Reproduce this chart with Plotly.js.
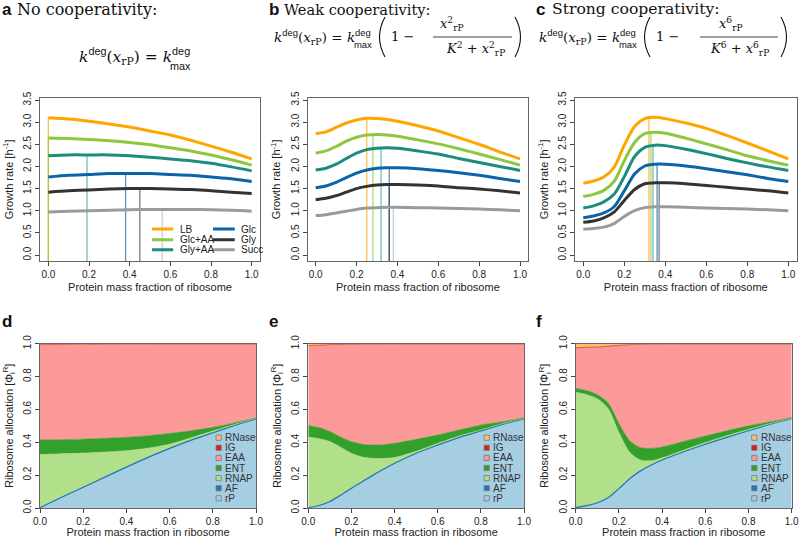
<!DOCTYPE html>
<html><head><meta charset="utf-8">
<script src="https://cdn.plot.ly/plotly-3.0.1.min.js"></script>
<style>html,body{margin:0;padding:0;background:#fff}</style>
</head><body><div id="chart" style="width:799px;height:538px"></div>
<script>
// ---------------- data ----------------
const media = ['LB','Glc+AA','Gly+AA','Glc','Gly','Succ'];

// panel a: no cooperativity
const xA = [0,0.1,0.2,0.3,0.4,0.5,0.6,0.7,0.8,0.9,1.0];
const aLB    = [3.10,3.07,3.02,2.96,2.89,2.80,2.71,2.59,2.46,2.32,2.17];
const aGlcAA = [2.64,2.63,2.61,2.58,2.54,2.49,2.42,2.35,2.26,2.15,2.03];
const aGlyAA = [2.24,2.26,2.26,2.26,2.24,2.21,2.17,2.13,2.07,1.99,1.90];
const aGlc   = [1.76,1.80,1.82,1.84,1.84,1.84,1.82,1.80,1.76,1.72,1.66];
const aGly   = [1.42,1.45,1.47,1.49,1.50,1.50,1.49,1.48,1.45,1.42,1.39];
const aSucc  = [0.97,0.99,1.00,1.01,1.02,1.03,1.03,1.03,1.02,1.01,0.99];
const aPeakX = [0,0,0.19,0.38,0.45,0.56];
const aPeakY = [3.10,2.64,2.26,1.84,1.50,1.03];

// panel b: weak cooperativity
const xB = [0,0.05,0.1,0.15,0.2,0.25,0.3,0.35,0.4,0.5,0.6,0.7,0.8,0.9,1.0];
const bLB    = [2.74,2.78,2.88,2.98,3.05,3.09,3.08,3.06,3.02,2.92,2.80,2.65,2.50,2.33,2.17];
const bGlcAA = [2.30,2.35,2.45,2.57,2.66,2.71,2.72,2.71,2.68,2.60,2.51,2.40,2.28,2.16,2.03];
const bGlyAA = [1.92,1.96,2.05,2.18,2.30,2.38,2.41,2.42,2.41,2.35,2.28,2.18,2.09,2.00,1.91];
const bGlc   = [1.52,1.56,1.64,1.75,1.85,1.92,1.96,1.97,1.97,1.95,1.91,1.86,1.80,1.73,1.66];
const bGly   = [1.25,1.28,1.34,1.42,1.50,1.55,1.58,1.59,1.59,1.58,1.56,1.52,1.49,1.45,1.40];
const bSucc  = [0.89,0.91,0.95,0.99,1.03,1.06,1.07,1.08,1.08,1.07,1.06,1.05,1.04,1.02,1.00];
const bPeakX = [0.25,0.28,0.32,0.36,0.36,0.38];
const bPeakY = [3.09,2.72,2.42,1.97,1.59,1.08];

// panel c: strong cooperativity
const xC = [0,0.05,0.1,0.15,0.2,0.25,0.3,0.35,0.4,0.5,0.6,0.7,0.8,0.9,1.0];
const cLB    = [1.62,1.67,1.76,1.98,2.48,2.90,3.08,3.11,3.08,2.98,2.86,2.70,2.53,2.35,2.17];
const cGlcAA = [1.32,1.37,1.46,1.66,2.13,2.54,2.74,2.77,2.75,2.64,2.51,2.38,2.24,2.13,2.03];
const cGlyAA = [1.06,1.11,1.20,1.37,1.77,2.22,2.43,2.48,2.47,2.39,2.29,2.18,2.08,1.99,1.91];
const cGlc   = [0.84,0.88,0.95,1.09,1.45,1.83,2.01,2.05,2.05,2.01,1.95,1.88,1.81,1.73,1.66];
const cGly   = [0.74,0.77,0.84,0.97,1.23,1.48,1.61,1.63,1.63,1.61,1.57,1.53,1.49,1.45,1.40];
const cSucc  = [0.58,0.60,0.63,0.71,0.87,1.00,1.07,1.09,1.09,1.08,1.06,1.05,1.04,1.02,1.00];
const cPeakX = [0.32,0.33,0.34,0.36,0.37,0.37];
const cPeakY = [3.12,2.77,2.48,2.05,1.63,1.09];

// ribosome allocation components (bottom to top)
const components = ['rP','AF','RNAP','ENT','EAA','IG','RNase'];

const xD = [0,0.1,0.2,0.3,0.4,0.5,0.6,0.7,0.8,0.9,1.0];
const dRP    = [0,0.062,0.123,0.185,0.246,0.305,0.36,0.41,0.455,0.499,0.54];
const dAF    = [0.002,0.003,0.003,0.003,0.003,0.003,0.003,0.003,0.003,0.003,0.003];
const dRNAP  = [0.323,0.265,0.208,0.153,0.100,0.056,0.025,0.014,0.010,0.006,0.002];
const dENT   = [0.089,0.086,0.085,0.083,0.081,0.076,0.066,0.043,0.023,0.010,0.003];
const dEAA   = [0.579,0.579,0.577,0.572,0.567,0.557,0.543,0.527,0.506,0.479,0.449];
const dIG    = [0.001,0.001,0.001,0.002,0.002,0.002,0.002,0.002,0.002,0.002,0.002];
const dRNase = [0.006,0.004,0.003,0.002,0.001,0.001,0.001,0.001,0.001,0.001,0.001];

const xE = [0,0.05,0.1,0.15,0.2,0.25,0.3,0.35,0.4,0.5,0.6,0.7,0.8,0.9,1.0];
const eRP    = [0,0.012,0.037,0.075,0.117,0.157,0.197,0.234,0.269,0.33,0.38,0.427,0.466,0.506,0.54];
const eAF    = [0.002,0.003,0.003,0.003,0.003,0.003,0.003,0.003,0.003,0.003,0.003,0.003,0.003,0.003,0.003];
const eRNAP  = [0.428,0.407,0.364,0.292,0.213,0.150,0.102,0.065,0.035,0.012,0.010,0.008,0.006,0.004,0.002];
const eENT   = [0.071,0.068,0.061,0.062,0.071,0.078,0.081,0.084,0.087,0.073,0.051,0.037,0.030,0.012,0.003];
const eEAA   = [0.485,0.499,0.527,0.562,0.591,0.608,0.613,0.611,0.603,0.579,0.553,0.522,0.492,0.472,0.449];
const eIG    = [0.002,0.002,0.002,0.002,0.002,0.002,0.002,0.002,0.002,0.002,0.002,0.002,0.002,0.002,0.002];
const eRNase = [0.012,0.009,0.006,0.004,0.003,0.002,0.002,0.001,0.001,0.001,0.001,0.001,0.001,0.001,0.001];

const xF = [0,0.05,0.1,0.15,0.2,0.25,0.3,0.35,0.4,0.5,0.6,0.7,0.8,0.9,1.0];
const fRP    = [0,0.012,0.029,0.059,0.115,0.175,0.223,0.259,0.289,0.339,0.385,0.427,0.467,0.507,0.542];
const fAF    = [0.002,0.002,0.003,0.003,0.003,0.003,0.003,0.003,0.003,0.003,0.003,0.003,0.003,0.003,0.003];
const fRNAP  = [0.702,0.676,0.633,0.543,0.342,0.162,0.066,0.026,0.013,0.010,0.010,0.010,0.008,0.004,0.002];
const fENT   = [0.024,0.025,0.025,0.035,0.055,0.070,0.076,0.075,0.067,0.053,0.040,0.030,0.022,0.011,0.003];
const fEAA   = [0.245,0.261,0.288,0.343,0.473,0.582,0.627,0.633,0.625,0.592,0.559,0.527,0.497,0.472,0.447];
const fIG    = [0.002,0.002,0.002,0.002,0.002,0.002,0.002,0.002,0.002,0.002,0.002,0.002,0.002,0.002,0.002];
const fRNase = [0.025,0.022,0.020,0.015,0.010,0.006,0.003,0.002,0.001,0.001,0.001,0.001,0.001,0.001,0.001];

const topTicks = [0,0.5,1,1.5,2,2.5,3,3.5];
const fracTicks = [0,0.2,0.4,0.6,0.8,1.0];

// ---------------- styles ----------------
const W = 799, H = 538;
const SANS = 'Liberation Sans, Arial, sans-serif';
const SERIF = 'DejaVu Serif, serif';
const lineColors = ['#FFA500','#8DC63F','#1B8C7D','#0B63AA','#333333','#9A9A9A'];
const dropColors = ['rgba(255,165,0,0.7)','rgba(141,198,63,0.7)','rgba(27,160,140,0.65)','rgba(11,99,170,0.7)','rgba(51,51,51,0.65)','rgba(170,170,170,0.6)'];
const compColors = ['#A6CEE3','#1F78B4','#B2DF8A','#33A02C','#FB9A99','#E31A1C','#FDBF6F'];
const yFloor = -0.135, yCeil = 3.552;

const px = v => v / W;
const py = v => 1 - v / H;

const traces = [];
function growthPanel(x, series, peakX, peakY, n) {
  const xa = 'x' + (n === 1 ? '' : n), ya = 'y' + (n === 1 ? '' : n);
  series.forEach((s, i) => {
    traces.push({type:'scatter', mode:'lines', x:[peakX[i], peakX[i]], y:[yFloor, peakY[i]],
      xaxis:xa, yaxis:ya, line:{color:dropColors[i], width:1.3}, showlegend:false, hoverinfo:'skip'});
  });
  series.forEach((s, i) => {
    traces.push({type:'scatter', mode:'lines', x:x, y:s, name:media[i],
      xaxis:xa, yaxis:ya, line:{color:lineColors[i], width:3, shape:'spline', smoothing:0.8},
      showlegend:false, hoverinfo:'skip'});
  });
}
growthPanel(xA, [aLB,aGlcAA,aGlyAA,aGlc,aGly,aSucc], aPeakX, aPeakY, 1);
growthPanel(xB, [bLB,bGlcAA,bGlyAA,bGlc,bGly,bSucc], bPeakX, bPeakY, 2);
growthPanel(xC, [cLB,cGlcAA,cGlyAA,cGlc,cGly,cSucc], cPeakX, cPeakY, 3);

function allocPanel(x, layers, n) {
  const xa = 'x' + n, ya = 'y' + n;
  layers.forEach((vals, i) => {
    const isAF = components[i] === 'AF';
    traces.push({type:'scatter', mode:'lines', x:x, y:vals, name:components[i],
      stackgroup:'alloc' + n, fillcolor:compColors[i],
      line:{color:compColors[i], width:isAF ? 1.2 : 0.6, shape:'spline', smoothing:0.8},
      xaxis:xa, yaxis:ya, showlegend:false, hoverinfo:'skip'});
  });
}
allocPanel(xD, [dRP,dAF,dRNAP,dENT,dEAA,dIG,dRNase], 4);
allocPanel(xE, [eRP,eAF,eRNAP,eENT,eEAA,eIG,eRNase], 5);
allocPanel(xF, [fRP,fAF,fRNAP,fENT,fEAA,fIG,fRNase], 6);

// ---------------- axes ----------------
const axBase = {showgrid:false, zeroline:false, showline:true, mirror:true, linecolor:'#666', linewidth:1,
  ticks:'outside', ticklen:4, tickcolor:'#444', ticklabeloverflow:'allow',
  tickfont:{family:SANS, size:10, color:'#222'}, fixedrange:true};
const titleFont = {family:SANS, size:11, color:'#222'};
const layout = {width:W, height:H, margin:{l:0,r:0,t:0,b:0}, paper_bgcolor:'#fff', plot_bgcolor:'#fff',
  showlegend:false, annotations:[], shapes:[]};

const topDom = [[40.2,259.8],[307.5,528.2],[575.1,796.5]];
const botDom = [[40,256],[308.3,524],[575.7,791.7]];
topDom.forEach((d, i) => {
  const k = i + 1, s = k === 1 ? '' : k;
  layout['xaxis' + s] = Object.assign({}, axBase, {domain:[px(d[0]), px(d[1])], range:[-0.04,1.04],
    tickvals:fracTicks, ticktext:fracTicks.map(v => v.toFixed(1)), anchor:'y' + s,
    title:{text:'Protein mass fraction of ribosome', font:titleFont, standoff:4}});
  layout['yaxis' + s] = Object.assign({}, axBase, {domain:[py(261), py(97.7)], range:[yFloor, yCeil],
    tickvals:topTicks, ticktext:topTicks.map(v => v.toFixed(1)), tickangle:-90, anchor:'x' + s,
    title:{text:'Growth rate [h<sup>-1</sup>]', font:titleFont, standoff:6}});
});
botDom.forEach((d, i) => {
  const k = i + 4;
  layout['xaxis' + k] = Object.assign({}, axBase, {domain:[px(d[0]), px(d[1])], range:[0,1],
    tickvals:fracTicks, ticktext:fracTicks.map(v => v.toFixed(1)), anchor:'y' + k,
    title:{text:'Protein mass fraction in ribosome', font:titleFont, standoff:3}});
  layout['yaxis' + k] = Object.assign({}, axBase, {domain:[py(508), py(343.7)], range:[0,1],
    tickvals:fracTicks, ticktext:fracTicks.map(v => v.toFixed(1)), tickangle:-90, anchor:'x' + k,
    title:{text:'Ribosome allocation [Φ<sub>i</sub><sup>R</sup>]', font:titleFont, standoff:6}});
});

// ---------------- panel labels / titles ----------------
const A = layout.annotations, S = layout.shapes;
function txt(text, x, y, opts) {
  A.push(Object.assign({text:text, x:px(x), y:py(y), xref:'paper', yref:'paper', showarrow:false,
    xanchor:'left', yanchor:'middle', font:{family:SERIF, size:12, color:'#111'}}, opts || {}));
}
const letterFont = {family:SANS, size:17, color:'#111', weight:700};
txt('<b>a</b>', 0, 9, {font:letterFont});
txt('<b>b</b>', 267, 9, {font:letterFont});
txt('<b>c</b>', 534, 9, {font:letterFont});
txt('<b>d</b>', 0, 321, {font:letterFont});
txt('<b>e</b>', 267, 321, {font:letterFont});
txt('<b>f</b>', 534, 321, {font:letterFont});
txt('No cooperativity:', 15, 9, {font:{family:SERIF, size:16, color:'#111'}});
txt('Weak cooperativity:', 282, 9, {font:{family:SERIF, size:14.6, color:'#111'}});
txt('Strong cooperativity:', 550, 9, {font:{family:SERIF, size:15.6, color:'#111'}});

// equations
const DEG = '<sup><span style="font-family:Liberation Sans, Arial, sans-serif">deg</span></sup>';
function kmax(xRight, yMid, size) {
  txt('<i>k</i>' + DEG + '(<i>x</i><sub>rP</sub>) = <i>k</i>' + DEG, xRight, yMid,
    {xanchor:'right', font:{family:SERIF, size:size, color:'#111'}});
  txt('max', xRight + 1, yMid + size * 0.55, {xanchor:'right', font:{family:SANS, size:size * 0.7, color:'#111'}});
}
kmax(192, 57, 15.5);
function paren(xEnd, bulge, yTop, yBot) {
  const yMid = (yTop + yBot) / 2;
  S.push({type:'path', xref:'paper', yref:'paper', line:{color:'#111', width:1.1},
    path:'M' + px(xEnd) + ',' + py(yTop) + ' Q' + px(xEnd + bulge) + ',' + py(yMid) + ' ' + px(xEnd) + ',' + py(yBot)});
}
function coop(x0, n, lineL, lineR, parL, parR, numC, denC, yMid) {
  const mf = {family:SERIF, size:13, color:'#111'};
  kmax(x0, yMid, 13.5);
  paren(parL, -11, yMid - 20, yMid + 20);
  txt('1 −', x0 + 16, yMid, {font:mf});
  txt('<i>x</i><sup>' + n + '</sup><sub>rP</sub>', numC, yMid - 13, {xanchor:'center', font:mf});
  txt('<i>K</i><sup>' + n + '</sup> + <i>x</i><sup>' + n + '</sup><sub>rP</sub>', denC, yMid + 12, {xanchor:'center', font:mf});
  S.push({type:'line', xref:'paper', yref:'paper', x0:px(lineL), x1:px(lineR), y0:py(yMid), y1:py(yMid), line:{color:'#111', width:0.8}});
  paren(parR, 11, yMid - 20, yMid + 20);
}
coop(373, 2, 433, 512, 385, 515, 452, 475, 37);
coop(638, 6, 700, 778, 650, 781, 731, 739, 37);

// ---------------- legends ----------------
// panel a: two columns of line samples
const legRowsY = [0.587, 0.345, 0.12];
const legCols = [[0.51, 0.614, 0.638], [0.81, 0.917, 0.94]];
media.forEach((m, i) => {
  const col = legCols[Math.floor(i / 3)], yv = legRowsY[i % 3];
  S.push({type:'line', xref:'x', yref:'y', x0:col[0], x1:col[1], y0:yv, y1:yv, line:{color:lineColors[i], width:3}});
  A.push({text:m, x:col[2], y:yv, xref:'x', yref:'y', showarrow:false, xanchor:'left', yanchor:'middle',
    font:{family:SANS, size:10, color:'#222'}});
});
// panels d,e,f: square swatches, listed top (RNase) to bottom (rP)
botDom.forEach((d, p) => {
  const k = p + 4, wpx = d[1] - d[0], hpx = 508 - 343.7;
  const cx = 0.827, lx = 0.847;
  for (let j = 0; j < components.length; j++) {
    const ci = components.length - 1 - j;
    const yp = 437.7 + j * 10.1;
    const yd = (508 - yp) / hpx;
    const hs = 2.6;
    S.push({type:'rect', xref:'x' + k + ' domain', yref:'y' + k + ' domain',
      x0:cx - hs / wpx, x1:cx + hs / wpx, y0:yd - hs / hpx, y1:yd + hs / hpx,
      fillcolor:compColors[ci], line:{color:'#777', width:0.8}});
    A.push({text:components[ci], x:lx, y:yd, xref:'x' + k + ' domain', yref:'y' + k + ' domain', showarrow:false,
      xanchor:'left', yanchor:'middle', font:{family:SANS, size:10, color:'#333'}});
  }
});

Plotly.newPlot('chart', traces, layout, {staticPlot:true});
</script></body></html>
